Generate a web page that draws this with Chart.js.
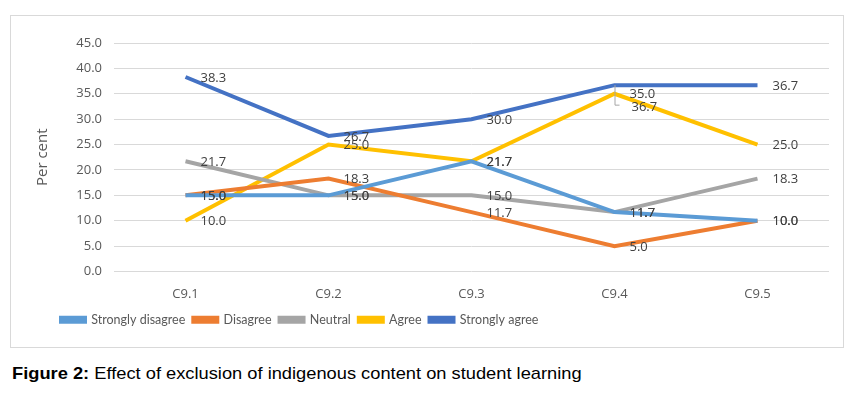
<!DOCTYPE html>
<html>
<head>
<meta charset="utf-8">
<script src="https://cdn.jsdelivr.net/npm/chart.js@4"></script>
<style>
  body { margin: 0; background: #fff; width: 846px; height: 394px; position: relative; overflow: hidden; }
  #frame { position: absolute; left: 10px; top: 15px; width: 832px; height: 331px; border: 1px solid #d9d9d9; }
  #caption { position: absolute; left: 12px; top: 364px; font-family: "Liberation Sans", Arial, sans-serif; font-size: 17px; color: #000; white-space: nowrap; transform: scaleX(1.075); transform-origin: left top; }
</style>
</head>
<body>
<div id="frame"><canvas id="chart" width="832" height="331"></canvas></div>
<div id="caption"><b>Figure 2:</b> Effect of exclusion of indigenous content on student learning</div>
<script>
const categories = ['C9.1', 'C9.2', 'C9.3', 'C9.4', 'C9.5'];
const seriesNames = ['Strongly disagree', 'Disagree', 'Neutral', 'Agree', 'Strongly agree'];
const stronglyDisagree = [15.0, 15.0, 21.7, 11.7, 10.0];
const disagree = [15.0, 18.3, 11.7, 5.0, 10.0];
const neutral = [21.7, 15.0, 15.0, 11.7, 18.3];
const agree = [10.0, 25.0, 21.7, 35.0, 25.0];
const stronglyAgree = [38.3, 26.7, 30.0, 36.7, 36.7];
const colors = ['#5B9BD5', '#ED7D31', '#A5A5A5', '#FFC000', '#4472C4'];

const FONT = '"Open Sans", "Noto Sans", sans-serif';

// value labels to the right of each point; one label pushed down with a leader line
const valueLabels = {
  id: 'valueLabels',
  afterDatasetsDraw(chart) {
    const ctx = chart.ctx;
    ctx.save();
    ctx.font = '13px ' + FONT;
    ctx.fillStyle = '#404040';
    ctx.textAlign = 'left';
    ctx.textBaseline = 'middle';
    chart.data.datasets.forEach((ds, di) => {
      chart.getDatasetMeta(di).data.forEach((pt, i) => {
        const txt = ds.data[i].toFixed(1);
        if (di === 4 && i === 3) {
          ctx.strokeStyle = '#a6a6a6';
          ctx.lineWidth = 1;
          ctx.beginPath();
          ctx.moveTo(pt.x + 0.5, pt.y);
          ctx.lineTo(pt.x + 0.5, pt.y + 20);
          ctx.lineTo(pt.x + 5, pt.y + 20);
          ctx.stroke();
          ctx.fillText(txt, pt.x + 17, pt.y + 22);
        } else {
          ctx.fillText(txt, pt.x + 15, pt.y + 1);
        }
      });
    });
    ctx.restore();
  }
};

// the legend sits left of centre, as in the original
const legendShift = {
  id: 'legendShift',
  beforeDraw(chart) {
    chart.legend.left = 42;
  }
};

const series = [stronglyDisagree, disagree, neutral, agree, stronglyAgree];

new Chart(document.getElementById('chart'), {
  type: 'line',
  data: {
    labels: categories,
    datasets: series.map((d, i) => ({
      label: seriesNames[i],
      data: d,
      borderColor: colors[i],
      backgroundColor: colors[i],
      borderWidth: 4,
      pointRadius: 0,
      tension: 0,
      fill: false
    }))
  },
  options: {
    responsive: false,
    animation: false,
    layout: { padding: { left: 10, right: 14, top: 27, bottom: 11 } },
    scales: {
      x: {
        offset: true,
        grid: { display: false },
        border: { display: false },
        ticks: { color: '#595959', font: { family: FONT, size: 13 }, padding: 7 },
        afterFit(s) { s.height = 34; }
      },
      y: {
        min: 0,
        max: 45,
        ticks: {
          stepSize: 5,
          color: '#595959',
          font: { family: FONT, size: 13 },
          padding: 12,
          callback: v => v.toFixed(1)
        },
        grid: { color: '#d9d9d9', lineWidth: 1, drawTicks: false },
        border: { display: false },
        title: { display: true, text: 'Per cent', color: '#595959', font: { family: FONT, size: 15 }, padding: { top: 13, bottom: 0 } },
        afterFit(s) { s.width = 93; }
      }
    },
    plugins: {
      legend: {
        position: 'bottom',
        align: 'start',
        labels: {
          boxWidth: 24,
          boxHeight: 4,
          padding: 8,
          color: '#595959',
          font: { family: 'Lato, sans-serif', size: 12.5 }
        }
      },
      tooltip: { enabled: false }
    }
  },
  plugins: [valueLabels, legendShift]
});
</script>
</body>
</html>
